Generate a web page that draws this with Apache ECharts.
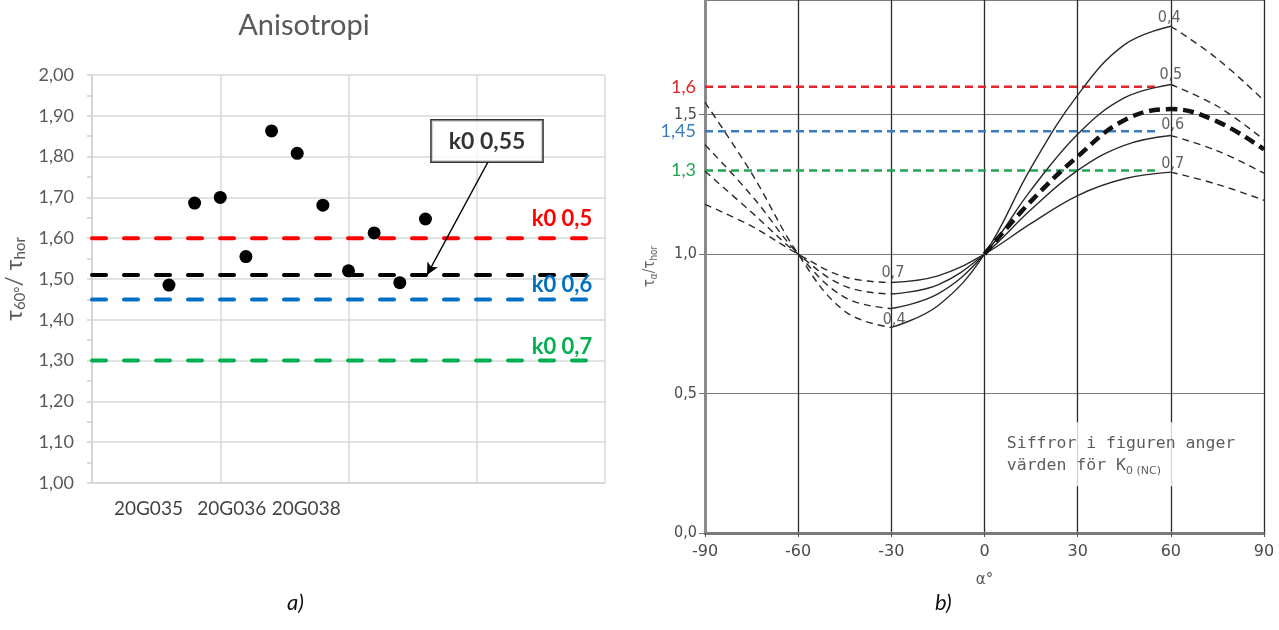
<!DOCTYPE html>
<html>
<head>
<meta charset="utf-8">
<script src="https://cdn.jsdelivr.net/npm/echarts@6/dist/echarts.min.js"></script>
<style>html,body{margin:0;padding:0;background:#fff}#c{width:1279px;height:630px}</style>
</head>
<body>
<div id="c"></div>
<script>
// ---------- panel a) data ----------
const sampleX = [3, 4, 5, 6, 7, 8, 9, 10, 11, 12, 13];
const sampleY = [1.485, 1.686, 1.700, 1.555, 1.863, 1.808, 1.681, 1.520, 1.613, 1.491, 1.647];
const sampleNames = ['20G035', '20G036', '20G038'];
const sampleNamePos = [2.2, 5.45, 8.35];
const refNames = ['k0 0,5', 'k0 0,55', 'k0 0,6', 'k0 0,7'];
const refValues = [1.60, 1.51, 1.45, 1.30];
const refColors = ['#ff0000', '#000000', '#0070c0', '#00b050'];
const refEnd = 19.5;
const annotBox = [15.4, 1.838];
const annotFrom = [15.44, 1.787];
const annotTo = [13.06, 1.51];

// ---------- panel b) data ----------
const alpha = [-90, -75, -60, -45, -30, -15, 0, 15, 30, 45, 60, 75, 90];
const k04 = [1.544, 1.29, 1.0, 0.795, 0.737, 0.815, 1.0, 1.31, 1.57, 1.75, 1.817, 1.70, 1.55];
const k05 = [1.392, 1.21, 1.0, 0.845, 0.805, 0.857, 1.0, 1.23, 1.43, 1.56, 1.608, 1.53, 1.41];
const k06 = [1.297, 1.15, 1.0, 0.885, 0.857, 0.89, 1.0, 1.16, 1.30, 1.39, 1.425, 1.37, 1.29];
const k07 = [1.178, 1.10, 1.0, 0.918, 0.898, 0.922, 1.0, 1.11, 1.21, 1.27, 1.294, 1.25, 1.193];
const alphaThick = [0, 15, 30, 45, 60, 75, 90];
const k055 = [1.0, 1.19, 1.35, 1.48, 1.52, 1.475, 1.375];
const curveLabels = ['0,4', '0,5', '0,6', '0,7', '0,7', '0,4'];
const curveLabelPos = [[59.5, 1.846], [60, 1.643], [60.6, 1.464], [60.6, 1.325], [-29.5, 0.932], [-29.1, 0.764]];
const hLineNames = ['1,6', '1,45', '1,3'];
const hLineValues = [1.6, 1.44, 1.3];
const hLineColors = ['#e3262c', '#3a7dbf', '#23a455'];
const hLineEnd = 56;
const noteText = ['Siffror i figuren anger', 'värden för K', '0 (NC)'];
const notePos = [4.6, 0.282];

const chart = echarts.init(document.getElementById('c'), null, {renderer: 'canvas'});
const lato = 'Lato, "Open Sans", sans-serif';
const scan = '"DejaVu Sans Condensed", "DejaVu Sans", sans-serif';
const scanW = '"DejaVu Sans", sans-serif';
const mono = '"DejaVu Sans Mono", monospace';

const series = [];

// panel a: reference dashed lines
refValues.forEach((v, i) => {
  const isBlack = i === 1;
  const lblPos = {0: 8, 2: 3, 3: 3};
  const endPt = {value: [refEnd, v]};
  if (!isBlack) {
    endPt.label = {
      show: true, position: 'top', distance: lblPos[i], align: 'right',
      formatter: refNames[i], color: refColors[i], fontFamily: lato,
      fontWeight: 'bold', fontSize: 22
    };
  }
  series.push({
    type: 'line', xAxisIndex: 0, yAxisIndex: 0, symbol: 'circle', symbolSize: 0,
    showSymbol: true, silent: true,
    data: [[0, v], endPt],
    lineStyle: {color: refColors[i], width: 4, type: [14, 18], cap: 'round'},
    itemStyle: {color: refColors[i]},
    z: 2
  });
});

// panel a: scatter points
series.push({
  type: 'scatter', xAxisIndex: 0, yAxisIndex: 0, symbolSize: 13,
  itemStyle: {color: '#000', opacity: 1},
  data: sampleX.map((x, i) => [x, sampleY[i]]), z: 5
});

// panel a: category names below axis
series.push({
  type: 'scatter', xAxisIndex: 0, yAxisIndex: 0, symbolSize: 0, silent: true,
  data: sampleNamePos.map((x, i) => ({value: [x, 1.0], name: sampleNames[i]})),
  label: {show: true, position: 'bottom', distance: 16, formatter: p => p.name,
    color: '#111', fontFamily: lato, fontSize: 19}
});

// panel a: annotation box + arrow
series.push({
  type: 'scatter', xAxisIndex: 0, yAxisIndex: 0, symbolSize: 0, silent: true,
  data: [{value: annotBox}],
  label: {show: true, position: 'inside', formatter: refNames[1], color: '#000',
    fontFamily: lato, fontWeight: 'bold', fontSize: 23, backgroundColor: '#fff',
    borderColor: '#000', borderWidth: 1.5, padding: [9, 17]},
  markLine: {
    silent: true, symbol: ['none', 'arrow'], symbolSize: [9, 12],
    label: {show: false},
    lineStyle: {color: '#000', width: 1.3, type: 'solid'},
    data: [[{coord: annotFrom}, {coord: annotTo}]]
  }, z: 6
});

// panel b: colored reference lines
hLineValues.forEach((v, i) => {
  series.push({
    type: 'line', xAxisIndex: 1, yAxisIndex: 1, symbol: 'circle', symbolSize: 0,
    showSymbol: true, silent: true,
    data: [{value: [-90, v], label: {show: true, position: 'left', distance: 9,
      formatter: hLineNames[i], color: hLineColors[i], fontFamily: lato, fontSize: 18}},
      [hLineEnd, v]],
    lineStyle: {color: hLineColors[i], width: 2.5, type: [8, 5]},
    itemStyle: {color: hLineColors[i]}, z: 3
  });
});

// panel b: curves split into dashed / solid / dashed parts
function seg(arr, lo, hi) {
  const out = [];
  alpha.forEach((a, i) => { if (a >= lo && a <= hi) out.push([a, arr[i]]); });
  return out;
}
[k04, k05, k06, k07].forEach(arr => {
  [[-90, -30, [7, 5]], [-30, 60, 'solid'], [60, 90, [7, 5]]].forEach(([lo, hi, t]) => {
    series.push({
      type: 'line', xAxisIndex: 1, yAxisIndex: 1, symbol: 'none', silent: true,
      smooth: 0.4, data: seg(arr, lo, hi),
      lineStyle: {color: '#2a2a2a', width: 1.4, type: t}, z: 4
    });
  });
});
series.push({
  type: 'line', xAxisIndex: 1, yAxisIndex: 1, symbol: 'none', silent: true,
  smooth: 0.4, data: alphaThick.map((a, i) => [a, k055[i]]),
  lineStyle: {color: '#111', width: 4.5, type: [11, 6]}, z: 5
});

// panel b: curve labels
series.push({
  type: 'scatter', xAxisIndex: 1, yAxisIndex: 1, symbolSize: 0, silent: true,
  data: curveLabelPos.map((p, i) => ({value: p, name: curveLabels[i]})),
  label: {show: true, position: 'inside', formatter: p => p.name, color: '#3a3a3a',
    fontFamily: scan, fontSize: 16}, z: 6
});

// panel b: note
series.push({
  type: 'scatter', xAxisIndex: 1, yAxisIndex: 1, symbolSize: 0, silent: true,
  data: [{value: notePos}],
  label: {show: true, position: 'inside',
    formatter: noteText[0] + '\n' + noteText[1] + '{s|' + noteText[2] + '}',
    color: '#333', fontFamily: mono, fontSize: 16.5, lineHeight: 22, align: 'left',
    backgroundColor: '#fff', padding: [10, 8],
    rich: {s: {fontSize: 11, fontFamily: scanW, color: '#333', verticalAlign: 'bottom', lineHeight: 22}}},
  z: 7
});

const option = {
  backgroundColor: '#fff',
  animation: false,
  title: {
    text: 'Anisotropi', left: 299, top: 6, textAlign: 'center',
    textStyle: {color: '#595959', fontFamily: lato, fontWeight: 'normal', fontSize: 29}
  },
  grid: [
    {left: 92, top: 75, width: 513, height: 408},
    {left: 705, top: -2, width: 559, height: 535}
  ],
  xAxis: [
    {type: 'value', gridIndex: 0, min: 0, max: 20, interval: 5,
      axisLine: {show: true, lineStyle: {color: '#d4d4d4', width: 1.5}},
      axisTick: {show: false}, axisLabel: {show: false},
      splitLine: {show: true, lineStyle: {color: '#d9d9d9', width: 1.5}}},
    {type: 'value', gridIndex: 1, min: -90, max: 90, interval: 30,
      name: 'α°', nameLocation: 'middle', nameGap: 40,
      nameTextStyle: {color: '#555', fontFamily: scanW, fontSize: 15},
      axisLine: {show: true, onZero: false, lineStyle: {color: '#7a7a7a', width: 3}},
      axisTick: {show: true, length: 4, lineStyle: {color: '#555'}},
      axisLabel: {color: '#4a4a4a', fontFamily: scanW, fontSize: 16, margin: 11},
      splitLine: {show: true, lineStyle: {color: '#2b2b2b', width: 1.3}}}
  ],
  yAxis: [
    {type: 'value', gridIndex: 0, min: 1, max: 2, interval: 0.1,
      name: '{a|τ}{s|60°}{a|/ τ}{s|hor}', nameLocation: 'middle', nameGap: 64, nameRotate: 90,
      nameTextStyle: {color: '#595959', rich: {
        a: {fontSize: 23, fontFamily: lato, color: '#595959', verticalAlign: 'middle', lineHeight: 27},
        s: {fontSize: 15, fontFamily: lato, color: '#595959', verticalAlign: 'bottom', lineHeight: 27}}},
      axisLine: {show: true, lineStyle: {color: '#d0d0d0', width: 1.5}},
      axisTick: {show: true, length: 5, lineStyle: {color: '#d0d0d0', width: 1.5}},
      minorTick: {show: true, splitNumber: 2, length: 5, lineStyle: {color: '#d0d0d0', width: 1.5}},
      axisLabel: {color: '#595959', fontFamily: lato, fontSize: 18, margin: 18,
        formatter: v => v.toFixed(2).replace('.', ',')},
      splitLine: {show: true, lineStyle: {color: '#d9d9d9', width: 1.5}}},
    {type: 'value', gridIndex: 1, min: 0, max: 1.911, interval: 0.5,
      name: '{a|τ}{s|α}{a|/τ}{s|hor}', nameLocation: 'middle', nameGap: 46, nameRotate: 90,
      nameTextStyle: {rich: {
        a: {fontSize: 15, fontFamily: scan, color: '#666', verticalAlign: 'middle', lineHeight: 18},
        s: {fontSize: 10, fontFamily: scan, color: '#666', verticalAlign: 'bottom', lineHeight: 18}}},
      axisLine: {show: true, onZero: false, lineStyle: {color: '#8a8a8a', width: 3}},
      axisTick: {show: true, length: 6, lineStyle: {color: '#777'}},
      axisLabel: {color: '#4a4a4a', fontFamily: scan, fontSize: 16, margin: 8, showMaxLabel: false,
        formatter: v => (Math.abs(v * 2 - Math.round(v * 2)) < 1e-6) ? v.toFixed(1).replace('.', ',') : ''},
      splitLine: {show: true, lineStyle: {color: '#7a7a7a', width: 1.2}}}
  ],
  graphic: [
    {type: 'text', left: 287, top: 592, style: {text: 'a)', font: 'italic 22px ' + lato, fill: '#111'}},
    {type: 'text', left: 935, top: 592, style: {text: 'b)', font: 'italic 22px ' + lato, fill: '#111'}}
  ],
  series: series
};
chart.setOption(option);
</script>
</body>
</html>
